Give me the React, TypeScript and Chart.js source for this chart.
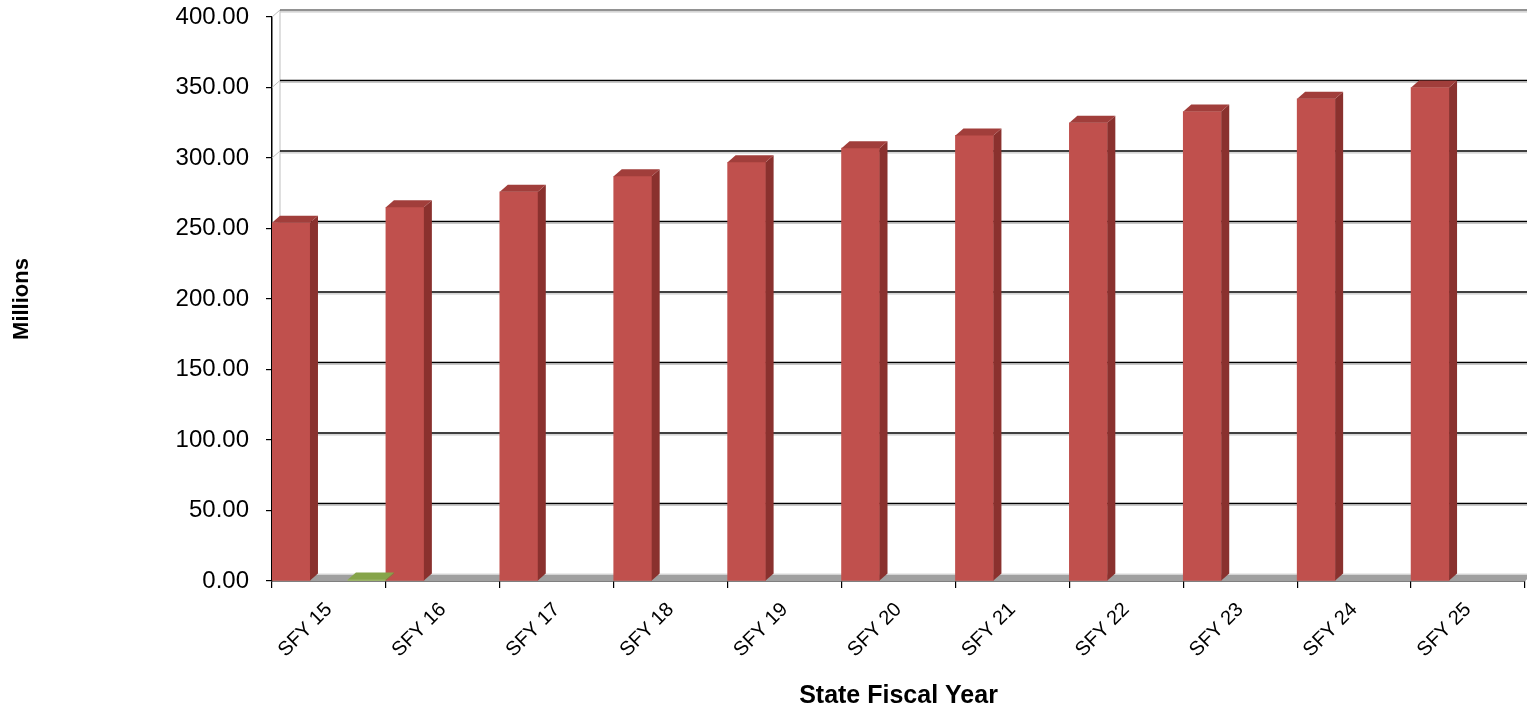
import React, { useEffect, useRef } from "react";
import { Chart, registerables } from "chart.js";

Chart.register(...registerables);

const categories = ["SFY 15", "SFY 16", "SFY 17", "SFY 18", "SFY 19", "SFY 20", "SFY 21", "SFY 22", "SFY 23", "SFY 24", "SFY 25"];
const series1 = [254, 265, 276, 287, 297, 307, 316, 325, 333, 342, 350];
const series2 = [0, 0, 0, 0, 0, 0, 0, 0, 0, 0, 0];
const series3 = [1, 0, 0, 0, 0, 0, 0, 0, 0, 0, 0];
const yTicks = [0, 50, 100, 150, 200, 250, 300, 350, 400];

const DX = 8;
const DY = 7;

const faceColors = [
  { front: "#C0504D", side: "#8A312E", top: "#A13E3B" },
  { front: "#4F81BD", side: "#385D8A", top: "#4572A7" },
  { front: "#9BBB59", side: "#71893F", top: "#86A44A" },
];

const depthPlugin = {
  id: "depth3d",
  beforeDatasetsDraw(chart: any) {
    const { ctx, chartArea, scales } = chart;
    const ys = scales.y;
    const l = chartArea.left;
    const r = chartArea.right;
    const b = chartArea.bottom;
    ctx.save();
    // floor
    ctx.fillStyle = "#A0A0A0";
    ctx.beginPath();
    ctx.moveTo(l, b);
    ctx.lineTo(r, b);
    ctx.lineTo(r + DX, b - DY);
    ctx.lineTo(l + DX, b - DY);
    ctx.closePath();
    ctx.fill();
    ctx.strokeStyle = "#E6E6E6";
    ctx.lineWidth = 1.5;
    ctx.beginPath();
    ctx.moveTo(l + DX, b - DY);
    ctx.lineTo(r + DX, b - DY);
    ctx.stroke();
    // back wall left edge
    const topPx = ys.getPixelForValue(yTicks[yTicks.length - 1]);
    ctx.strokeStyle = "#D4D4D4";
    ctx.lineWidth = 1.5;
    ctx.beginPath();
    ctx.moveTo(l + DX, topPx - DY);
    ctx.lineTo(l + DX, b - DY);
    ctx.stroke();
    // grid lines on back wall
    yTicks.forEach((v, i) => {
      if (v === 0) return;
      const py = ys.getPixelForValue(v);
      const last = i === yTicks.length - 1;
      ctx.strokeStyle = "#BDBDBD";
      ctx.lineWidth = 1;
      ctx.beginPath();
      ctx.moveTo(l, py);
      ctx.lineTo(l + DX, py - DY);
      ctx.stroke();
      ctx.strokeStyle = "#C8C8C8";
      ctx.lineWidth = 1.2;
      ctx.beginPath();
      ctx.moveTo(l + DX, py - DY + 1.8);
      ctx.lineTo(chart.width, py - DY + 1.8);
      ctx.stroke();
      ctx.strokeStyle = last ? "#6E6E6E" : "#000000";
      ctx.lineWidth = 1.6;
      ctx.beginPath();
      ctx.moveTo(l + DX, py - DY);
      ctx.lineTo(chart.width, py - DY);
      ctx.stroke();
    });
    ctx.restore();
  },
  afterDatasetsDraw(chart: any) {
    const { ctx } = chart;
    ctx.save();
    chart.data.datasets.forEach((ds: any, i: number) => {
      const meta = chart.getDatasetMeta(i);
      const col = faceColors[i];
      meta.data.forEach((bar: any, j: number) => {
        const v = ds.data[j];
        if (!v) return;
        const p = bar.getProps(["x", "y", "base", "width"], true);
        const x1 = p.x - p.width / 2;
        const x2 = p.x + p.width / 2;
        const top = p.y;
        const base = p.base;
        ctx.fillStyle = col.side;
        ctx.beginPath();
        ctx.moveTo(x2, top);
        ctx.lineTo(x2 + DX, top - DY);
        ctx.lineTo(x2 + DX, base - DY);
        ctx.lineTo(x2, base);
        ctx.closePath();
        ctx.fill();
        ctx.fillStyle = col.top;
        ctx.beginPath();
        ctx.moveTo(x1, top);
        ctx.lineTo(x1 + DX, top - DY);
        ctx.lineTo(x2 + DX, top - DY);
        ctx.lineTo(x2, top);
        ctx.closePath();
        ctx.fill();
      });
    });
    ctx.restore();
  },
};

const faceFill = (i: number) => (c: any) => (c.raw ? faceColors[i].front : "rgba(0,0,0,0)");

export default function App() {
  const ref = useRef<HTMLCanvasElement | null>(null);

  useEffect(() => {
    document.body.style.margin = "0";
    const canvas = ref.current;
    if (!canvas) return;
    const font = "'Liberation Sans', Arial, sans-serif";
    const chart = new Chart(canvas, {
      type: "bar",
      data: {
        labels: categories,
        datasets: [
          { label: "Series 1", data: series1, backgroundColor: faceFill(0), categoryPercentage: 1, barPercentage: 1 },
          { label: "Series 2", data: series2, backgroundColor: faceFill(1), categoryPercentage: 1, barPercentage: 1 },
          { label: "Series 3", data: series3, backgroundColor: faceFill(2), categoryPercentage: 1, barPercentage: 1 },
        ],
      },
      options: {
        animation: false,
        responsive: false,
        events: [],
        layout: { padding: { top: 17, right: 2, left: 0, bottom: 0 } },
        plugins: {
          legend: { display: false },
          tooltip: { enabled: false },
        },
        scales: {
          x: {
            grid: { drawOnChartArea: false, tickLength: 7, color: "#000", lineWidth: 1.2, offset: true },
            border: { display: true, color: "#000", width: 1.5 },
            ticks: {
              color: "#000",
              font: { family: font, size: 20 },
              minRotation: 45,
              maxRotation: 45,
              padding: 10,
            },
            title: {
              display: true,
              text: "State Fiscal Year",
              color: "#000",
              font: { family: font, size: 25, weight: "bold" },
              padding: { top: 0, bottom: 3 },
            },
            afterFit(scale: any) {
              scale.height = 133;
              scale.paddingLeft = 0;
              scale.paddingRight = 0;
            },
          },
          y: {
            min: 0,
            max: 400,
            grid: { drawOnChartArea: false, tickLength: 6, color: "#000", lineWidth: 1.2 },
            border: { display: true, color: "#000", width: 1.5 },
            ticks: {
              stepSize: 50,
              color: "#000",
              font: { family: font, size: 24 },
              padding: 17,
              callback: (v: any) => Number(v).toFixed(2),
            },
            title: {
              display: true,
              text: "Millions",
              color: "#000",
              font: { family: font, size: 22, weight: "bold" },
              padding: { top: 9, bottom: 0 },
            },
            afterFit(scale: any) {
              scale.width = 272;
              scale.paddingTop = 0;
              scale.paddingBottom = 0;
            },
          },
        },
      },
      plugins: [depthPlugin],
    });
    return () => chart.destroy();
  }, []);

  return (
    <div style={{ width: 1527, height: 714 }}>
      <canvas ref={ref} width={1527} height={714} />
    </div>
  );
}
